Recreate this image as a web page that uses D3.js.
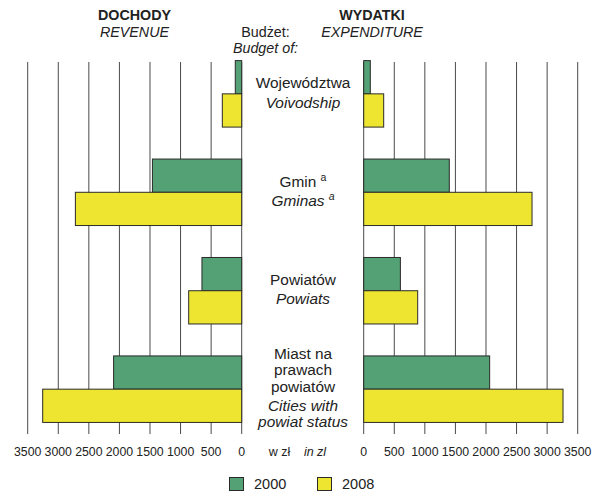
<!DOCTYPE html>
<html>
<head>
<meta charset="utf-8">
<script src="https://cdn.jsdelivr.net/npm/d3@7"></script>
<style>
  html, body { margin: 0; padding: 0; background: #fff; }
  svg { display: block; font-family: "Liberation Sans", Arial, sans-serif; }
</style>
</head>
<body>
<svg id="chart" width="595" height="491"></svg>
<script>
// ---- data ----
const categories = ["Województwa", "Gmin", "Powiatów", "Miast"];
const labelsPL = [["Województwa"], ["Gmin"], ["Powiatów"], ["Miast na", "prawach", "powiatów"]];
const labelsEN = [["Voivodship"], ["Gminas"], ["Powiats"], ["Cities with", "powiat status"]];
const footnote = [false, true, false, false];
const years = ["2000", "2008"];
const revenue2000 = [105, 1460, 650, 2095];
const revenue2008 = [317, 2720, 867, 3255];
const expenditure2000 = [108, 1400, 600, 2060];
const expenditure2008 = [327, 2753, 883, 3260];
const tickValues = [0, 500, 1000, 1500, 2000, 2500, 3000, 3500];

const colors = { "2000": "#53a174", "2008": "#ede52f" };

const svg = d3.select("#chart");

// ---- scales ----
const xL = d3.scaleLinear().domain([0, 3500]).range([241.7, 27.7]);
const xR = d3.scaleLinear().domain([0, 3500]).range([363.7, 577.7]);
const y = d3.scaleBand().domain(categories).range([60.6, 60.6 + 3 * 98.44 + 66.5])
  .paddingInner(0.3245).paddingOuter(0);
const ySub = d3.scaleBand().domain(years).range([0, y.bandwidth()]);

const gridTop = 62, gridBottom = 434;

// ---- grid lines ----
[xL, xR].forEach(sc => {
  svg.append("g").selectAll("line").data(tickValues).join("line")
    .attr("x1", d => sc(d)).attr("x2", d => sc(d))
    .attr("y1", gridTop).attr("y2", gridBottom)
    .attr("stroke", "#4a4a4a").attr("stroke-width", 1);
});

// ---- bars ----
const series = [
  { sc: xL, year: "2000", vals: revenue2000 },
  { sc: xL, year: "2008", vals: revenue2008 },
  { sc: xR, year: "2000", vals: expenditure2000 },
  { sc: xR, year: "2008", vals: expenditure2008 }
];
series.forEach(s => {
  svg.append("g").selectAll("rect").data(s.vals).join("rect")
    .attr("x", (d) => Math.min(s.sc(0), s.sc(d)))
    .attr("width", d => Math.abs(s.sc(d) - s.sc(0)))
    .attr("y", (d, i) => y(categories[i]) + ySub(s.year))
    .attr("height", ySub.bandwidth())
    .attr("fill", colors[s.year])
    .attr("stroke", "#2a2a2a").attr("stroke-width", 1);
});

// ---- tick labels ----
[xL, xR].forEach(sc => {
  svg.append("g").selectAll("text").data(tickValues).join("text")
    .attr("x", d => sc(d)).attr("y", 456)
    .attr("text-anchor", "middle")
    .attr("font-size", 12.3).attr("fill", "#222")
    .text(d => d);
});
svg.append("text").attr("x", 279.5).attr("y", 456).attr("text-anchor", "middle")
  .attr("font-size", 12.5).attr("fill", "#222").text("w zł");
svg.append("text").attr("x", 315).attr("y", 456).attr("text-anchor", "middle")
  .attr("font-size", 12.5).attr("font-style", "italic").attr("fill", "#222").text("in zl");

// ---- headers ----
const hdr = [
  { x: 134.5, y: 20, t: "DOCHODY", w: "bold", s: "normal" },
  { x: 134.5, y: 37, t: "REVENUE", w: "normal", s: "italic" },
  { x: 372, y: 20, t: "WYDATKI", w: "bold", s: "normal" },
  { x: 372, y: 37, t: "EXPENDITURE", w: "normal", s: "italic" },
  { x: 265.5, y: 37, t: "Budżet:", w: "normal", s: "normal" },
  { x: 265.5, y: 53, t: "Budget of:", w: "normal", s: "italic" }
];
svg.append("g").selectAll("text").data(hdr).join("text")
  .attr("x", d => d.x).attr("y", d => d.y).attr("text-anchor", "middle")
  .attr("font-size", 14.3).attr("font-weight", d => d.w).attr("font-style", d => d.s)
  .attr("fill", "#222").text(d => d.t);

// ---- category labels ----
const cx = 303, lineH = 16.3, gap = 19.5;
categories.forEach((c, i) => {
  const pl = labelsPL[i], en = labelsEN[i];
  const H = (pl.length - 1) * lineH + gap + (en.length - 1) * lineH;
  const center = y(c) + y.bandwidth() / 2;
  let by = center + 4 - H / 2;
  const lines = [];
  pl.forEach((t, k) => lines.push({ t, it: false, yy: by + k * lineH }));
  const enStart = by + (pl.length - 1) * lineH + gap;
  en.forEach((t, k) => lines.push({ t, it: true, yy: enStart + k * lineH }));
  lines.forEach(l => {
    const txt = svg.append("text").attr("x", cx).attr("y", l.yy)
      .attr("text-anchor", "middle").attr("font-size", 15.4)
      .attr("font-style", l.it ? "italic" : "normal").attr("fill", "#222");
    txt.append("tspan").text(l.t);
    if (footnote[i]) {
      txt.append("tspan").text("\u00a0").attr("font-size", 15.4);
      txt.append("tspan").text("a").attr("font-size", 10.5).attr("dy", -6);
    }
  });
});

// ---- legend ----
const legend = [{ year: "2000", x: 229.5 }, { year: "2008", x: 317.5 }];
legend.forEach(l => {
  svg.append("rect").attr("x", l.x).attr("y", 477.5).attr("width", 14).attr("height", 13)
    .attr("fill", colors[l.year]).attr("stroke", "#2a2a2a").attr("stroke-width", 1);
  svg.append("text").attr("x", l.x + 24.5).attr("y", 489).attr("font-size", 14.5)
    .attr("fill", "#222").text(l.year);
});
</script>
</body>
</html>
